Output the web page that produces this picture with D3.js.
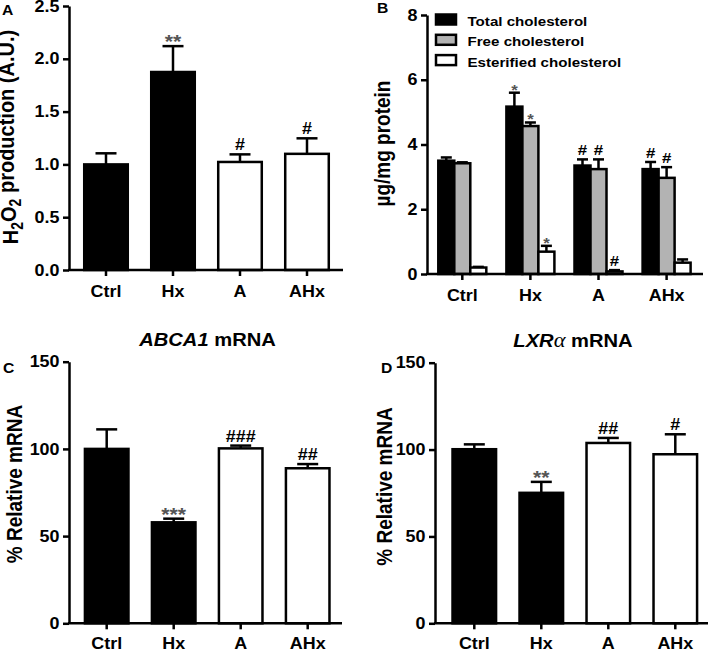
<!DOCTYPE html>
<html><head><meta charset="utf-8">
<script src="https://cdn.jsdelivr.net/npm/d3@7"></script>
<style>
body{margin:0;background:#fff}
svg{display:block}
text{font-family:"Liberation Sans",Arial,Helvetica,sans-serif;font-weight:bold}
</style>
</head><body>
<svg id="c" width="709" height="650"></svg>
<script>
// ---------- data ----------
const categories = ["Ctrl", "Hx", "A", "AHx"];
const groupFill = ["#000000", "#000000", "#ffffff", "#ffffff"];

// Panel A: H2O2 production
const h2o2Values = [1.0, 1.875, 1.023, 1.10];
const h2o2Errors = [0.105, 0.245, 0.072, 0.147];
const h2o2Marks = ["", "**", "#", "#"];
const h2o2Ticks = [0, 0.5, 1.0, 1.5, 2.0, 2.5];

// Panel B: cholesterol
const cholSeries = ["Total cholesterol", "Free cholesterol", "Esterified cholesterol"];
const cholFill = ["#000000", "#b3b3b3", "#ffffff"];
const totalChol = [3.5, 5.17, 3.35, 3.24];
const totalCholErr = [0.1, 0.43, 0.19, 0.22];
const freeChol = [3.42, 4.57, 3.24, 2.97];
const freeCholErr = [0.03, 0.11, 0.30, 0.33];
const esterChol = [0.2, 0.69, 0.08, 0.35];
const esterCholErr = [0.02, 0.18, 0.04, 0.10];
const totalMarks = ["", "*", "#", "#"];
const freeMarks = ["", "*", "#", "#"];
const esterMarks = ["", "*", "#", ""];
const cholTicks = [0, 2, 4, 6, 8];

// Panel C: ABCA1 mRNA
const abca1Values = [100, 57.9, 100.3, 88.9];
const abca1Errors = [11.2, 2.1, 1.6, 2.4];
const abca1Marks = ["", "***", "###", "##"];

// Panel D: LXRalpha mRNA
const lxrValues = [100.2, 75.1, 103.8, 97.3];
const lxrErrors = [2.8, 6.3, 2.9, 11.5];
const lxrMarks = ["", "**", "##", "#"];
const mrnaTicks = [0, 50, 100, 150];

// ---------- drawing ----------
const svg = d3.select("#c");
const SX = 1.12;
const SW = 2.5;

function stretch(sel) {
  sel.each(function () {
    const t = d3.select(this);
    const x = +t.attr("x") || 0, y = +t.attr("y") || 0;
    t.attr("x", 0).attr("y", 0).attr("transform", `translate(${x},${y}) scale(${SX},1)`);
  });
}
function label(x, y, size, anchor, rot) {
  return svg.append("text")
    .attr("transform", `translate(${x},${y}) scale(${SX},1)` + (rot ? " rotate(-90)" : ""))
    .attr("text-anchor", anchor)
    .style("font-size", size + "px")
    .attr("fill", "#000");
}

function drawAxes(cfg, x, y) {
  const gy = svg.append("g").attr("transform", `translate(${cfg.axisX0},0)`)
    .call(d3.axisLeft(y).tickValues(cfg.ticks).tickFormat(cfg.fmt)
      .tickSize(6).tickSizeOuter(0).tickPadding(3.5));
  const gx = svg.append("g").attr("transform", `translate(0,${cfg.y0})`)
    .call(d3.axisBottom(x).tickSize(6).tickSizeOuter(0).tickPadding(cfg.xPad || 9.5));
  gx.select(".domain").remove();
  gx.append("line").attr("x1", cfg.axisX0 - 1).attr("x2", cfg.axisX1)
    .attr("y1", 0).attr("y2", 0);
  [gx, gy].forEach(g => {
    g.selectAll("path,line").attr("stroke", "#000").attr("stroke-width", SW);
    g.selectAll("text").attr("fill", "#000")
      .style("font-size", "16px").style("font-weight", "bold")
      .style("font-family", '"Liberation Sans",Arial,sans-serif');
    stretch(g.selectAll("text"));
  });
}

function drawMark(cx, yTop, m, starSize, hashSize) {
  if (!m) return;
  const isStar = m[0] === "*";
  label(cx, isStar ? yTop + 2 : yTop - 4, isStar ? starSize : hashSize, "middle")
    .attr("fill", isStar ? "#555" : "#000")
    .text(m);
}

function simplePanel(cfg) {
  const y = d3.scaleLinear().domain([0, cfg.max]).range([cfg.y0, cfg.yTop]);
  const step = 67;
  const x = d3.scaleBand().domain(categories)
    .range([cfg.c0 - step / 2, cfg.c0 + 3.5 * step])
    .paddingInner(0.35).paddingOuter(0.175);
  const bw = x.bandwidth();
  const rows = categories.map((c, i) => ({ c, v: cfg.values[i], e: cfg.errors[i], m: cfg.marks[i], f: groupFill[i] }));
  const g = svg.append("g");
  const eb = g.selectAll("g.eb").data(rows).join("g").attr("class", "eb");
  eb.append("line")
    .attr("x1", d => x(d.c) + bw / 2).attr("x2", d => x(d.c) + bw / 2)
    .attr("y1", d => y(d.v)).attr("y2", d => y(d.v + d.e))
    .attr("stroke", "#000").attr("stroke-width", SW);
  eb.append("line")
    .attr("x1", d => x(d.c) + bw / 2 - 10.5).attr("x2", d => x(d.c) + bw / 2 + 10.5)
    .attr("y1", d => y(d.v + d.e)).attr("y2", d => y(d.v + d.e))
    .attr("stroke", "#000").attr("stroke-width", SW);
  g.selectAll("rect").data(rows).join("rect")
    .attr("x", d => x(d.c)).attr("width", bw)
    .attr("y", d => y(d.v)).attr("height", d => cfg.y0 - y(d.v))
    .attr("fill", d => d.f).attr("stroke", "#000").attr("stroke-width", SW);
  rows.forEach(d => drawMark(x(d.c) + bw / 2, y(d.v + d.e), d.m, 19, 16));
  drawAxes(cfg, x, y);
}

// Panel A
simplePanel({
  values: h2o2Values, errors: h2o2Errors, marks: h2o2Marks, ticks: h2o2Ticks,
  fmt: d3.format(".1f"), max: 2.5, y0: 270, yTop: 6, axisX0: 69, axisX1: 343, c0: 106
});
// Panel C
simplePanel({
  values: abca1Values, errors: abca1Errors, marks: abca1Marks, ticks: mrnaTicks,
  fmt: d3.format("d"), max: 150, y0: 623.3, yTop: 361.7, axisX0: 69, axisX1: 342, c0: 106.7, xPad: 8
});
// Panel D
simplePanel({
  values: lxrValues, errors: lxrErrors, marks: lxrMarks, ticks: mrnaTicks,
  fmt: d3.format("d"), max: 150, y0: 623.3, yTop: 362.7, axisX0: 435, axisX1: 708, c0: 474.3, xPad: 8
});

// Panel B (grouped)
(function () {
  const cfg = { ticks: cholTicks, fmt: d3.format("d"), y0: 274, yTop: 15, axisX0: 427, axisX1: 703 };
  const y = d3.scaleLinear().domain([0, 8]).range([cfg.y0, cfg.yTop]);
  const step = 68.1, c0 = 462.3;
  const x = d3.scaleBand().domain(categories)
    .range([c0 - step / 2, c0 + 3.5 * step]).paddingInner(0.295).paddingOuter(0.1475);
  const xs = d3.scaleBand().domain([0, 1, 2]).range([0, x.bandwidth()]);
  const vals = [totalChol, freeChol, esterChol];
  const errs = [totalCholErr, freeCholErr, esterCholErr];
  const marks = [totalMarks, freeMarks, esterMarks];
  const rows = [];
  categories.forEach((c, i) => vals.forEach((arr, s) =>
    rows.push({ c, s, v: arr[i], e: errs[s][i], m: marks[s][i] })));
  const g = svg.append("g");
  const bx = d => x(d.c) + xs(d.s);
  const bc = d => bx(d) + xs.bandwidth() / 2;
  const eb = g.selectAll("g.eb").data(rows).join("g").attr("class", "eb");
  eb.append("line").attr("x1", bc).attr("x2", bc)
    .attr("y1", d => y(d.v)).attr("y2", d => y(d.v + d.e))
    .attr("stroke", "#000").attr("stroke-width", SW);
  eb.append("line").attr("x1", d => bc(d) - 5.5).attr("x2", d => bc(d) + 5.5)
    .attr("y1", d => y(d.v + d.e)).attr("y2", d => y(d.v + d.e))
    .attr("stroke", "#000").attr("stroke-width", SW);
  g.selectAll("rect").data(rows).join("rect")
    .attr("x", bx).attr("width", xs.bandwidth())
    .attr("y", d => y(d.v)).attr("height", d => cfg.y0 - y(d.v))
    .attr("fill", d => cholFill[d.s]).attr("stroke", "#000").attr("stroke-width", SW);
  rows.forEach(d => drawMark(bc(d), y(d.v + d.e), d.m, 15, 15));
  drawAxes(cfg, x, y);

  // legend
  const lg = svg.append("g");
  cholSeries.forEach((s, i) => {
    lg.append("rect").attr("x", 436).attr("y", 14.5 + 20.3 * i).attr("width", 20).attr("height", 10)
      .attr("fill", cholFill[i]).attr("stroke", "#000").attr("stroke-width", SW);
  });
  cholSeries.forEach((s, i) => {
    label(467.5, 26 + 20.3 * i, 13.5, "start").text(s);
  });
})();

// Axis titles
const ta = label(18, 137, 20, "middle", true);
ta.append("tspan").text("H");
ta.append("tspan").attr("dy", "0.3em").style("font-size", "14px").text("2");
ta.append("tspan").attr("dy", "-0.3em").text("O");
ta.append("tspan").attr("dy", "0.3em").style("font-size", "14px").text("2");
ta.append("tspan").attr("dy", "-0.3em").text(" production (A.U.)");

label(390, 143.5, 19, "middle", true).text("\u00b5g/mg protein");
label(21.5, 484, 19, "middle", true).text("% Relative mRNA");
label(391.5, 486.5, 19, "middle", true).text("% Relative mRNA");

// Panel titles
const tc = label(207.5, 346, 18, "middle");
tc.append("tspan").style("font-style", "italic").text("ABCA1");
tc.append("tspan").text(" mRNA");
const td = label(573, 346.5, 18, "middle");
td.append("tspan").style("font-style", "italic").text("LXR");
td.append("tspan").style("font-style", "italic").style("font-weight", "normal")
  .style("font-family", '"Liberation Serif","DejaVu Serif",serif').style("font-size", "20px").text("\u03b1");
td.append("tspan").text(" mRNA");

// Panel letters
label(2, 15, 14, "start").text("A");
label(377, 13.3, 14, "start").text("B");
label(3, 373, 14, "start").text("C");
label(381, 373, 14, "start").text("D");
</script>
</body></html>
